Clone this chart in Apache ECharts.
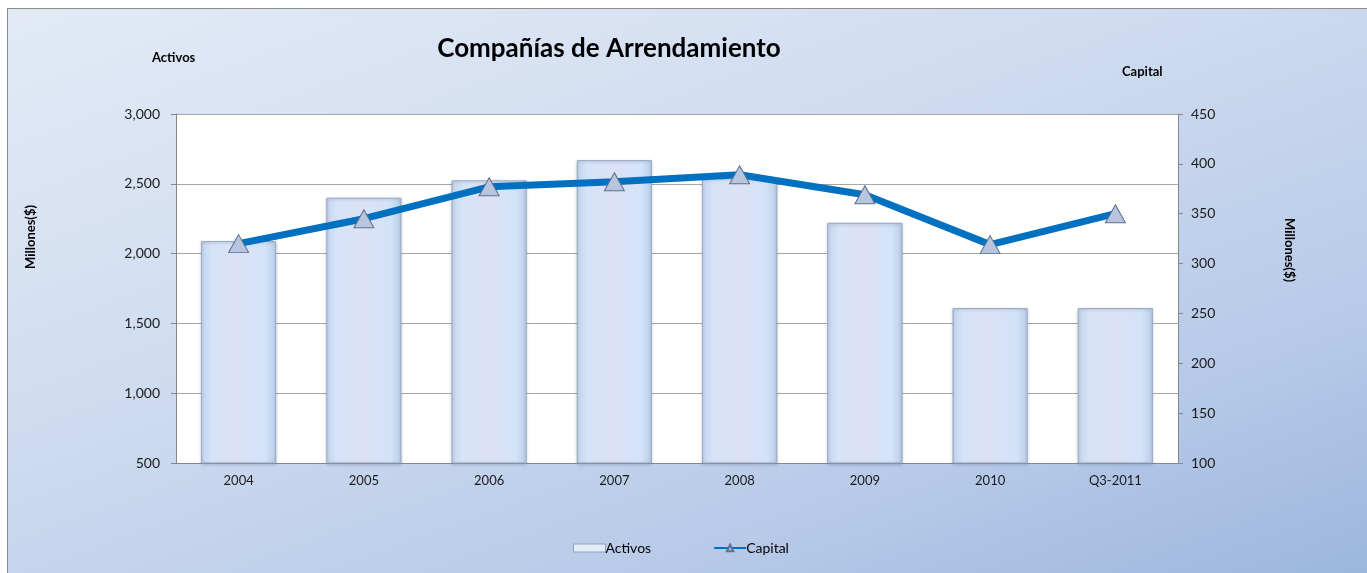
<!DOCTYPE html>
<html>
<head>
<meta charset="utf-8">
<script src="https://cdn.jsdelivr.net/npm/echarts@6/dist/echarts.min.js"></script>
<style>
  body { margin: 0; background: #fff; }
  #frame {
    position: absolute; left: 7px; top: 8px; width: 1362px; height: 567px;
    border: 1px solid #8c8c8c;
    background: linear-gradient(160deg, #e3eaf6 0%, #cfdcf0 40%, #b7cae8 75%, #9cb6dc 100%);
  }
  #myChart { position: absolute; left: 0; top: 0; width: 1367px; height: 573px; }
</style>
</head>
<body>
<div id="frame"></div>
<div id="myChart"></div>
<script>
// datos
const categorias = ['2004', '2005', '2006', '2007', '2008', '2009', '2010', 'Q3-2011'];
const activos = [2090, 2400, 2525, 2670, 2540, 2220, 1610, 1610];
const capital = [320, 345, 377, 382, 389, 369, 319, 350];

const fuente = 'Lato, "Open Sans", sans-serif';

let myChart = echarts.init(document.getElementById('myChart'));

// relleno de las barras (aprox. la textura azul/rosa)
const barFill = new echarts.graphic.LinearGradient(0, 0, 1, 0, [
  { offset: 0, color: '#c4d4ee' },
  { offset: 0.15, color: '#d6e4f8' },
  { offset: 0.5, color: '#dde0f6' },
  { offset: 0.85, color: '#d2e4f8' },
  { offset: 1, color: '#bccdea' }
]);

const options = {
  backgroundColor: 'transparent',
  textStyle: { fontFamily: fuente },
  title: {
    text: 'Compañías de Arrendamiento',
    left: 604, top: 31, textAlign: 'center',
    textStyle: { fontFamily: fuente, fontSize: 26, fontWeight: 'bold', color: '#000' }
  },
  grid: {
    left: 176, right: 189, top: 114, bottom: 110,
    show: true, backgroundColor: '#fff', borderWidth: 0
  },
  legend: {
    left: 568, top: 536,
    itemGap: 62, itemWidth: 32, itemHeight: 8,
    textStyle: { fontFamily: fuente, fontSize: 14, color: '#000', padding: [0, 0, 0, -5] },
    data: [
      { name: 'Activos', icon: 'rect', itemStyle: { color: '#e4ecf8', borderColor: '#8fa0bc', borderWidth: 1 } },
      { name: 'Capital' }
    ]
  },
  xAxis: {
    type: 'category',
    data: categorias,
    axisLine: { lineStyle: { color: '#868686' } },
    axisTick: { length: 5, lineStyle: { color: '#868686' } },
    axisLabel: { color: '#1a1a1a', fontSize: 13, margin: 11, fontFamily: fuente }
  },
  yAxis: [
    {
      type: 'value', min: 500, max: 3000, interval: 500,
      axisLine: { show: true, lineStyle: { color: '#868686' } },
      axisTick: { show: true, length: 5, lineStyle: { color: '#868686' } },
      splitLine: { lineStyle: { color: '#a6a6a6' } },
      axisLabel: {
        color: '#1a1a1a', fontSize: 14, margin: 16, fontFamily: fuente,
        formatter: v => v.toLocaleString('en-US')
      }
    },
    {
      type: 'value', min: 100, max: 450, interval: 50,
      position: 'right',
      axisLine: { show: true, lineStyle: { color: '#868686' } },
      axisTick: { show: true, length: 5, lineStyle: { color: '#868686' } },
      splitLine: { show: false },
      axisLabel: { color: '#1a1a1a', fontSize: 14, margin: 13, fontFamily: fuente }
    }
  ],
  graphic: [
    { type: 'text', left: 152, top: 51, style: { text: 'Activos', font: 'bold 13px ' + fuente, fill: '#000' } },
    { type: 'text', left: 1122, top: 65, style: { text: 'Capital', font: 'bold 13px ' + fuente, fill: '#000' } },
    { type: 'text', x: 31, y: 237, rotation: Math.PI / 2, style: { text: 'Millones($)', font: 'bold 13px ' + fuente, fill: '#000', align: 'center', verticalAlign: 'middle' } },
    { type: 'text', x: 1289, y: 250, rotation: -Math.PI / 2, style: { text: 'Millones($)', font: 'bold 13px ' + fuente, fill: '#000', align: 'center', verticalAlign: 'middle' } }
  ],
  series: [
    {
      name: 'Activos',
      type: 'bar',
      yAxisIndex: 0,
      barWidth: '60%',
      data: activos,
      itemStyle: {
        color: barFill,
        borderColor: '#9aaac4',
        borderWidth: 1,
        shadowColor: 'rgba(60,80,110,0.35)',
        shadowBlur: 3,
        shadowOffsetY: 1
      }
    },
    {
      name: 'Capital',
      type: 'line',
      yAxisIndex: 1,
      data: capital,
      symbol: 'triangle',
      symbolSize: [20, 18],
      lineStyle: { color: '#0070c0', width: 7 },
      itemStyle: { color: '#b7c6de', borderColor: '#5d6f8c', borderWidth: 1 },
      z: 5
    }
  ]
};

myChart.setOption(options);
</script>
</body>
</html>
